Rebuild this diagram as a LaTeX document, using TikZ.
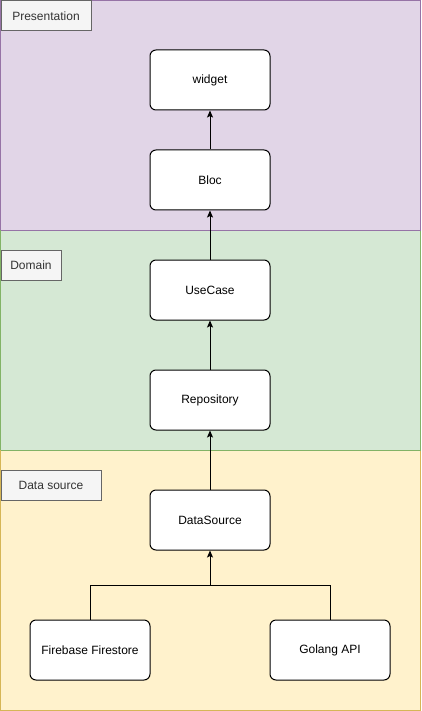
\documentclass[tikz,border=0pt]{standalone}
\usepackage{fontspec}
\setmainfont{Liberation Sans}
\usetikzlibrary{arrows.meta}
\definecolor{pfill}{HTML}{E1D5E7}\definecolor{pline}{HTML}{9673A6}
\definecolor{dfill}{HTML}{D5E8D4}\definecolor{dline}{HTML}{82B366}
\definecolor{sfill}{HTML}{FFF2CC}\definecolor{sline}{HTML}{D6B656}
\definecolor{lfill}{HTML}{F5F5F5}\definecolor{lline}{HTML}{666666}
\definecolor{txt}{HTML}{333333}
\begin{document}
\begin{tikzpicture}[x=1pt,y=-1pt,
  band/.style={line width=1pt},
  tag/.style={draw=lline,fill=lfill,line width=1pt,inner sep=0pt,anchor=north west,text=txt,font=\fontsize{12}{14}\selectfont},
  box/.style={draw=black,fill=white,rounded corners=6pt,line width=1pt,minimum width=120pt,minimum height=60pt,inner sep=0pt,font=\fontsize{12}{14}\selectfont},
  arr/.style={line width=1pt,-{Stealth[length=7pt,width=6pt,inset=1.5pt]}},
  ln/.style={line width=1pt}]
\useasboundingbox (0,0) rectangle (421,711);
\draw[band,fill=pfill,draw=pline] (0.5,0.5) rectangle (420.5,230);
\draw[band,fill=dfill,draw=dline] (0.5,230) rectangle (420.5,450);
\draw[band,fill=sfill,draw=sline] (0.5,450) rectangle (420.5,710);
\draw[pline,line width=1pt] (0.5,230) -- (420.5,230);
\draw[dline,line width=1pt] (0.5,450) -- (420.5,450);
\node[tag,minimum width=90pt,minimum height=30pt] (tp) at (0.5,0.5) {Presentation};
\node[tag,minimum width=60pt,minimum height=30pt] (td) at (0.5,250) {Domain};
\node[tag,minimum width=100pt,minimum height=30pt] (ts) at (0.5,470) {Data source};
\node[box] (widget) at (210,80) {widget};
\node[box] (bloc) at (210,180) {Bloc};
\node[box] (usecase) at (210,290) {UseCase};
\node[box] (repo) at (210,400) {Repository};
\node[box] (ds) at (210,520) {DataSource};
\node[box] (fb) at (90,650) {Firebase Firestore};
\node[box] (go) at (330,650) {Golang API};
\coordinate (fork) at (210,585);
\draw[arr] (bloc) -- (widget);
\draw[arr] (usecase) -- (bloc);
\draw[arr] (repo) -- (usecase);
\draw[arr] (ds) -- (repo);
\draw[ln] (fb.north) |- (fork);
\draw[arr] (go.north) |- (fork) -- (ds.south);
\end{tikzpicture}
\end{document}
